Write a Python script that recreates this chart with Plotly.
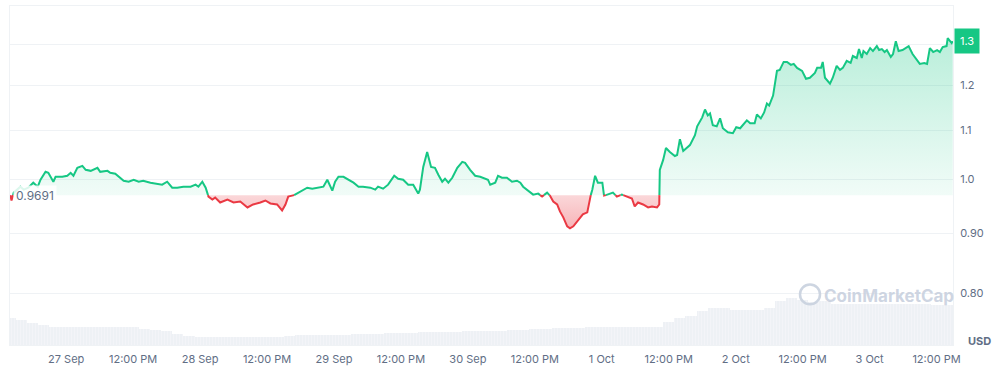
import numpy as np
import pandas as pd
import plotly.graph_objects as go

# ---------------- data ----------------
start = pd.Timestamp("2024-09-26 14:00")
baseline = 0.9691

hours = [
    0.0, 0.2, 0.6, 1.8, 2.4, 3.2, 4.1, 4.9, 5.4, 6.3,
    6.8, 7.7, 8.1, 9.3, 10.2, 10.8, 11.3, 12.0, 12.9, 13.5,
    14.4, 15.6, 16.1, 17.4, 17.9, 18.8, 19.4, 20.3, 21.2, 22.1,
    23.0, 23.8, 25.1, 26.3, 27.2, 28.1, 29.0, 29.9, 31.0, 32.3,
    33.2, 33.7, 34.4, 35.0, 35.5, 36.2, 36.7, 37.6, 38.9, 40.0,
    41.2, 42.5, 43.5, 44.8, 45.7, 46.6, 47.8, 48.7, 49.3, 49.8,
    50.7, 52.0, 53.2, 54.1, 55.2, 56.1, 56.8, 57.7, 58.2, 58.8,
    59.7, 60.9, 61.5, 62.4, 63.2, 64.5, 65.4, 65.9, 66.8, 67.7,
    68.8, 69.5, 70.4, 71.3, 72.2, 73.1, 73.4, 74.0, 74.7, 75.4,
    76.1, 76.7, 77.4, 77.9, 78.5, 79.2, 80.1, 81.0, 81.5, 82.4,
    83.3, 84.2, 85.1, 85.6, 86.0, 86.9, 87.4, 88.1, 89.0, 89.9,
    90.8, 91.4, 91.9, 92.8, 93.7, 94.6, 95.3, 96.2, 96.7, 97.3,
    98.0, 98.5, 99.1, 99.8, 100.3, 100.9, 101.8, 102.6, 103.4, 103.9,
    104.3, 104.8, 105.3, 106.1, 106.4, 107.1, 108.0, 108.7, 109.6, 110.5,
    111.4, 111.9, 112.5, 113.4, 114.3, 115.0, 115.9, 116.3, 116.4, 117.0,
    117.5, 118.2, 119.1, 119.5, 120.0, 120.6, 121.3, 121.8, 122.7, 123.1,
    124.0, 124.5, 125.0, 125.4, 125.9, 126.6, 127.2, 127.7, 128.6, 129.5,
    130.1, 130.8, 132.0, 132.6, 133.4, 133.8, 134.5, 135.1, 135.6, 136.0,
    136.7, 137.0, 137.4, 137.9, 138.6, 139.2, 139.9, 140.4, 141.0, 141.9,
    142.6, 143.3, 144.2, 144.6, 145.3, 145.6, 146.0, 146.9, 147.4, 148.1,
    148.7, 149.2, 149.9, 150.6, 151.0, 151.7, 152.1, 152.6, 152.9, 153.5,
    154.1, 154.6, 155.3, 155.7, 156.2, 156.7, 157.1, 157.8, 158.2, 158.7,
    159.2, 159.9, 160.7, 161.0, 161.7, 162.5, 163.0, 163.8, 164.3, 164.8,
    165.4, 166.1, 166.6, 167.1, 167.8, 168.0, 168.7, 168.9,
]

price = [
    0.9691, 0.9590, 0.9738, 0.9852, 0.9795, 0.9833, 0.9929, 0.9852, 0.9987, 1.0142,
    1.0122, 0.9948, 1.0044, 1.0044, 1.0064, 1.0122, 1.0064, 1.0221, 1.0260, 1.0181,
    1.0161, 1.0221, 1.0142, 1.0161, 1.0122, 1.0103, 1.0044, 0.9967, 0.9948, 0.9987,
    0.9948, 0.9967, 0.9929, 0.9910, 0.9891, 0.9948, 0.9833, 0.9833, 0.9852, 0.9852,
    0.9891, 0.9852, 0.9948, 0.9833, 0.9664, 0.9608, 0.9645, 0.9553, 0.9608, 0.9553,
    0.9571, 0.9461, 0.9516, 0.9553, 0.9590, 0.9535, 0.9516, 0.9406, 0.9516, 0.9664,
    0.9682, 0.9757, 0.9833, 0.9814, 0.9833, 0.9852, 0.9987, 0.9776, 0.9948, 1.0044,
    1.0044, 0.9967, 0.9929, 0.9852, 0.9852, 0.9833, 0.9795, 0.9852, 0.9814, 0.9891,
    1.0064, 1.0006, 0.9987, 0.9891, 0.9891, 0.9720, 0.9795, 1.0240, 1.0541, 1.0240,
    1.0221, 1.0083, 0.9948, 1.0006, 0.9929, 1.0025, 1.0221, 1.0340, 1.0320, 1.0181,
    1.0064, 1.0044, 1.0006, 0.9987, 0.9891, 0.9929, 1.0064, 1.0025, 1.0025, 0.9948,
    0.9967, 0.9929, 0.9852, 0.9776, 0.9701, 0.9720, 0.9664, 0.9738, 0.9682, 0.9571,
    0.9516, 0.9388, 0.9280, 0.9120, 0.9085, 0.9120, 0.9244, 0.9334, 0.9370, 0.9645,
    0.9795, 1.0064, 0.9929, 0.9929, 0.9682, 0.9701, 0.9738, 0.9664, 0.9701, 0.9664,
    0.9627, 0.9479, 0.9553, 0.9516, 0.9461, 0.9479, 0.9461, 0.9516, 1.0181, 1.0380,
    1.0623, 1.0541, 1.0460, 1.0480, 1.0809, 1.0561, 1.0643, 1.0684, 1.0893, 1.1084,
    1.1278, 1.1453, 1.1322, 1.1365, 1.1105, 1.1084, 1.1256, 1.1041, 1.0956, 1.0935,
    1.1063, 1.1041, 1.1213, 1.1148, 1.1148, 1.1344, 1.1256, 1.1387, 1.1587, 1.1542,
    1.1767, 1.2066, 1.2349, 1.2373, 1.2566, 1.2566, 1.2493, 1.2517, 1.2421, 1.2349,
    1.2160, 1.2184, 1.2301, 1.2421, 1.2421, 1.2566, 1.2184, 1.2043, 1.2184, 1.2469,
    1.2373, 1.2421, 1.2590, 1.2541, 1.2712, 1.2663, 1.2885, 1.2663, 1.2835, 1.2761,
    1.2910, 1.2835, 1.2960, 1.2860, 1.2885, 1.2811, 1.2860, 1.2688, 1.2761, 1.3085,
    1.2835, 1.2860, 1.2935, 1.2960, 1.2761, 1.2614, 1.2517, 1.2541, 1.2517, 1.2910,
    1.2811, 1.2860, 1.2811, 1.2935, 1.2960, 1.3162, 1.3036, 1.3085,
]

# volume (relative units) every 2 hours from start
volume_step_hours = 2
volume = [
    27.7, 25, 22.5, 20.3, 18.5, 18, 18, 18, 18, 18,
    18, 18, 16.5, 15.3, 14, 11.5, 9.5, 8.3, 8.3, 8.3,
    8.3, 8.3, 8.3, 8.3, 8.3, 9.3, 10.3, 10.3, 10.3, 10.3,
    10.5, 11, 11, 11.5, 12, 12, 12.5, 13, 13, 13,
    13.5, 14, 14, 14, 14.5, 15, 15.5, 16, 16.5, 17,
    17, 17.5, 17.7, 17.7, 17.7, 17.7, 17.7, 17.7, 17.7, 23,
    27, 29, 34, 37.7, 37.7, 35.3, 35.3, 35.3, 37, 44,
    47.7, 45.3, 43.7, 44, 41, 41, 41.5, 41.5, 41.5, 41.5,
    41, 41, 41, 40.5, 40.3,
]

x_tick_times = [
    "2024-09-27 00:00", "2024-09-27 12:00", "2024-09-28 00:00", "2024-09-28 12:00",
    "2024-09-29 00:00", "2024-09-29 12:00", "2024-09-30 00:00", "2024-09-30 12:00",
    "2024-10-01 00:00", "2024-10-01 12:00", "2024-10-02 00:00", "2024-10-02 12:00",
    "2024-10-03 00:00", "2024-10-03 12:00",
]
x_tick_labels = [
    "27 Sep", "12:00 PM", "28 Sep", "12:00 PM", "29 Sep", "12:00 PM", "30 Sep",
    "12:00 PM", "1 Oct", "12:00 PM", "2 Oct", "12:00 PM", "3 Oct", "12:00 PM",
]
y_tick_values = [0.8, 0.9, 1.0, 1.1, 1.2, 1.3]
# the 1.3 label sits under the current-price badge, which shows it instead
y_tick_labels = ["0.80", "0.90", "1.0", "1.1", "1.2", ""]

# ---------------- styling ----------------
GREEN = "#16c784"
RED = "#ea3943"
GRID = "#eff2f5"
TXT = "#616e85"
FONT = "Inter, Roboto, Arial, sans-serif"

# insert baseline crossings so colours split cleanly
t = np.array(hours, float)
p = np.array(price, float)
T, P = [t[0]], [p[0]]
for i in range(1, len(t)):
    a, b = p[i - 1] - baseline, p[i] - baseline
    if a * b < 0:
        f = a / (a - b)
        T.append(t[i - 1] + f * (t[i] - t[i - 1]))
        P.append(baseline)
    T.append(t[i])
    P.append(p[i])
T = np.array(T)
P = np.array(P)
times = start + pd.to_timedelta(T, unit="h")
base_arr = np.full(len(P), baseline)
up = np.maximum(P, baseline)
dn = np.minimum(P, baseline)
green_line = np.where(P >= baseline, P, np.nan)
red_line = np.where(P <= baseline, P, np.nan)

vol_times = start + pd.to_timedelta(np.arange(len(volume)) * volume_step_hours, unit="h")

fig = go.Figure()

# volume bars
fig.add_trace(go.Bar(
    x=vol_times, y=volume, yaxis="y2",
    width=volume_step_hours * 3600 * 1000,
    marker=dict(color="#eef1f5", line=dict(width=0),
                pattern=dict(shape="|", fgcolor="#f8f9fb", size=3, solidity=0.3)),
    hoverinfo="skip", showlegend=False,
))

# green fill
fig.add_trace(go.Scatter(x=times, y=base_arr, mode="lines", line=dict(width=0),
                         hoverinfo="skip", showlegend=False))
fig.add_trace(go.Scatter(
    x=times, y=up, mode="lines", line=dict(width=0), fill="tonexty",
    fillcolor="rgba(22,199,132,0.15)",
    fillgradient=dict(type="vertical",
                      colorscale=[[0, "rgba(22,199,132,0.06)"], [1, "rgba(22,199,132,0.30)"]]),
    hoverinfo="skip", showlegend=False))
# red fill
fig.add_trace(go.Scatter(x=times, y=base_arr, mode="lines", line=dict(width=0),
                         hoverinfo="skip", showlegend=False))
fig.add_trace(go.Scatter(
    x=times, y=dn, mode="lines", line=dict(width=0), fill="tonexty",
    fillcolor="rgba(234,57,67,0.25)",
    fillgradient=dict(type="vertical",
                      colorscale=[[0, "rgba(234,57,67,0.38)"], [1, "rgba(234,57,67,0.20)"]]),
    hoverinfo="skip", showlegend=False))

# lines
fig.add_trace(go.Scatter(x=times, y=green_line, mode="lines",
                         line=dict(color=GREEN, width=2), connectgaps=False, showlegend=False))
fig.add_trace(go.Scatter(x=times, y=red_line, mode="lines",
                         line=dict(color=RED, width=2), connectgaps=False, showlegend=False))

x0 = start - pd.Timedelta(hours=0.07)
x1 = start + pd.Timedelta(hours=168.95)

fig.update_layout(
    width=1004, height=371,
    margin=dict(l=10, r=51, t=5, b=24),
    paper_bgcolor="white", plot_bgcolor="white",
    font=dict(family=FONT, color=TXT, size=11),
    showlegend=False,
    bargap=0,
    xaxis=dict(
        type="date", range=[x0, x1], showgrid=False, zeroline=False,
        tickmode="array", tickvals=x_tick_times, ticktext=x_tick_labels,
        tickfont=dict(size=11, color=TXT), ticks="", ticklabelstandoff=4,
        showline=True, linecolor=GRID, linewidth=1, mirror=True,
    ),
    yaxis=dict(
        type="log", range=[np.log10(0.7235), np.log10(1.4014)], side="right",
        tickmode="array", tickvals=y_tick_values, ticktext=y_tick_labels,
        tickfont=dict(size=11, color=TXT), ticks="", ticklabelstandoff=4,
        showgrid=True, gridcolor=GRID, gridwidth=1, zeroline=False,
        showline=True, linecolor=GRID, linewidth=1, mirror=True,
    ),
    yaxis2=dict(overlaying="y", range=[0, 342], visible=False, fixedrange=True),
)

# dotted baseline
fig.add_shape(type="line", xref="paper", x0=0, x1=1, yref="y",
              y0=np.log10(baseline), y1=np.log10(baseline),
              line=dict(color="#9aa3b1", width=1, dash="dot"), layer="above")

# baseline label
fig.add_annotation(xref="paper", x=0, xanchor="left", xshift=3,
                   yref="y", y=np.log10(baseline), yanchor="middle",
                   text=f"{baseline:.4f}", showarrow=False,
                   font=dict(size=12, color=TXT), bgcolor="rgba(255,255,255,0.85)",
                   borderpad=2)

# current price badge
fig.add_annotation(xref="paper", x=1, xanchor="left", xshift=1,
                   yref="y", y=np.log10(price[-1]), yanchor="middle",
                   text=f"{price[-1]:.1f}", showarrow=False,
                   font=dict(size=11, color="white"), bgcolor=GREEN, borderpad=5)

# USD unit label
fig.add_annotation(xref="paper", x=1.0276, yref="paper", y=0.012,
                   xanchor="center", yanchor="middle", text="<b>USD</b>",
                   showarrow=False, font=dict(size=11, color=TXT))

# watermark
fig.add_annotation(xref="paper", x=0.932, yref="paper", y=0.146,
                   xanchor="center", yanchor="middle", text="<b>CoinMarketCap</b>",
                   showarrow=False, font=dict(size=17, color="rgba(200,208,222,0.9)"))
fig.add_shape(type="circle", xref="paper", yref="paper",
              x0=(800 - 10) / 943, x1=(820 - 10) / 943,
              y0=(347 - 306) / 342, y1=(347 - 286) / 342,
              line=dict(color="rgba(200,208,222,0.9)", width=2.5))

fig.write_html("out.html",
               config={"displayModeBar": False},
               post_script="document.body.style.margin='0';document.body.style.padding='0';")
